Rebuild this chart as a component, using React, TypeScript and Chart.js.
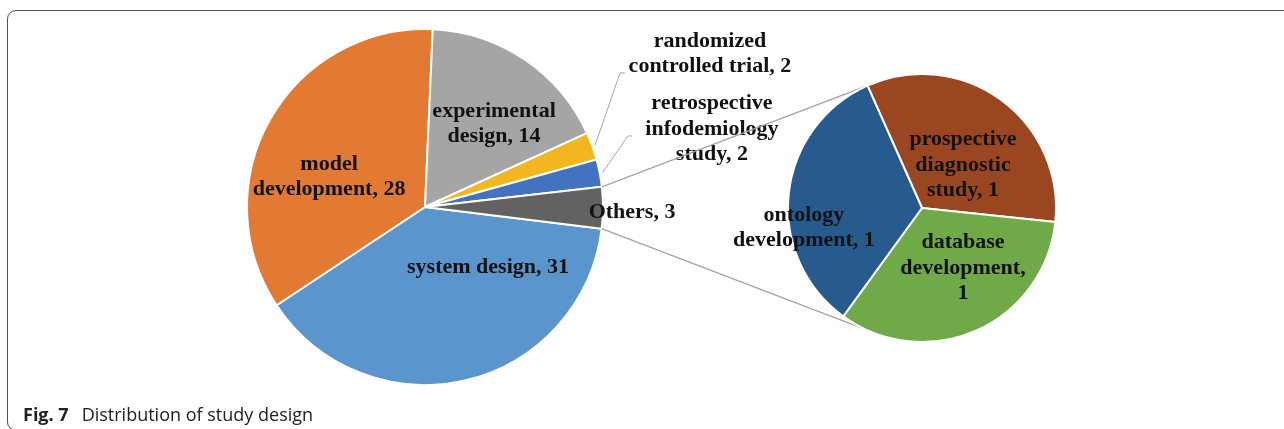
import React, { useEffect, useRef } from "react";
import { Chart, registerables } from "chart.js";

Chart.register(...registerables);

// ---------- data ----------
const mainCategories = [
  "system design",
  "model\ndevelopment",
  "experimental\ndesign",
  "randomized\ncontrolled trial",
  "retrospective\ninfodemiology\nstudy",
  "Others",
];
const mainValues = [31, 28, 14, 2, 2, 3];
const mainSeparators = [", ", ", ", ", ", ", ", ", ", ", "];
const mainColors = ["#5A95CE", "#E27A33", "#A5A5A5", "#F2B71F", "#4272C0", "#626262"];

const subCategories = ["prospective\ndiagnostic\nstudy", "database\ndevelopment", "ontology\ndevelopment"];
const subValues = [1, 1, 1];
const subSeparators = [", ", ",\n", ", "];
const subColors = ["#9A4721", "#70AA48", "#275B8E"];

// ---------- layout (relative to pie centre, in units of radius) ----------
const mainLabelPos: [number, number][] = [
  [0.354, 0.337],
  [-0.539, -0.169],
  [0.388, -0.466],
  [1.601, -0.86],
  [1.612, -0.438],
  [1.163, 0.028],
];
// leader lines: [bendX, bendY, endX, endY] or null
const mainLeaders: (number[] | null)[] = [
  null,
  null,
  null,
  [1.096, -0.753, 1.124, -0.753],
  [1.14, -0.399, 1.163, -0.399],
  null,
];
const subLabelPos: [number, number][] = [
  [0.306, -0.321],
  [0.306, 0.448],
  [-0.881, 0.149],
];
const CONNECTOR_BOTTOM_DEG = 115;

const FONT = 'bold 22px "Liberation Serif", "Times New Roman", serif';
const LINE_H = 25.5;
const W = 1284;
const H = 429;

function makeLabelPlugin(
  cats: string[],
  vals: number[],
  seps: string[],
  pos: [number, number][],
  leaders: (number[] | null)[] | null
) {
  return {
    id: "pieLabels",
    afterDatasetsDraw(chart: any) {
      const meta = chart.getDatasetMeta(0);
      const arcs = meta.data as any[];
      const { x, y, outerRadius } = arcs[0].getProps(["x", "y", "outerRadius"], true);
      const ctx = chart.ctx as CanvasRenderingContext2D;
      ctx.save();
      if (leaders) {
        ctx.strokeStyle = "#A6A6A6";
        ctx.lineWidth = 1;
        leaders.forEach((l, i) => {
          if (!l) return;
          const a = arcs[i];
          const { startAngle, endAngle } = a.getProps(["startAngle", "endAngle"], true);
          const mid = (startAngle + endAngle) / 2;
          const sx = x + Math.cos(mid) * (outerRadius + 3);
          const sy = y + Math.sin(mid) * (outerRadius + 3);
          ctx.beginPath();
          ctx.moveTo(sx, sy);
          ctx.lineTo(x + l[0] * outerRadius, y + l[1] * outerRadius);
          ctx.lineTo(x + l[2] * outerRadius, y + l[3] * outerRadius);
          ctx.stroke();
        });
      }
      ctx.font = FONT;
      ctx.fillStyle = "#111111";
      ctx.textAlign = "center";
      ctx.textBaseline = "middle";
      cats.forEach((c, i) => {
        const lines = (c + seps[i] + vals[i]).split("\n");
        const cx = x + pos[i][0] * outerRadius;
        const cy = y + pos[i][1] * outerRadius;
        lines.forEach((ln, j) => {
          ctx.fillText(ln, cx, cy + (j - (lines.length - 1) / 2) * LINE_H);
        });
      });
      ctx.restore();
    },
  };
}

export default function App() {
  const mainRef = useRef<HTMLCanvasElement | null>(null);
  const subRef = useRef<HTMLCanvasElement | null>(null);

  useEffect(() => {
    if (!mainRef.current || !subRef.current) return;
    const mainChart = new Chart(mainRef.current, {
      type: "pie",
      data: {
        labels: mainCategories.map((c) => c.replace(/\n/g, " ")),
        datasets: [
          {
            data: mainValues,
            backgroundColor: mainColors,
            borderColor: "#FFFFFF",
            borderWidth: 2,
          },
        ],
      },
      options: {
        responsive: false,
        animation: false,
        rotation: 97,
        radius: 178,
        layout: { padding: { left: 0, right: 434, top: 0, bottom: 15 } },
        plugins: { legend: { display: false }, tooltip: { enabled: false } },
      } as any,
      plugins: [makeLabelPlugin(mainCategories, mainValues, mainSeparators, mainLabelPos, mainLeaders)],
    });

    const connectorPlugin = {
      id: "connectors",
      beforeDatasetsDraw(chart: any) {
        const mArcs = mainChart.getDatasetMeta(0).data as any[];
        const others = mArcs[mArcs.length - 1];
        const m = others.getProps(["x", "y", "outerRadius", "startAngle", "endAngle"], true);
        const sArcs = chart.getDatasetMeta(0).data as any[];
        const s = sArcs[0].getProps(["x", "y", "outerRadius", "startAngle"], true);
        const bottomA = (CONNECTOR_BOTTOM_DEG * Math.PI) / 180;
        const ctx = chart.ctx as CanvasRenderingContext2D;
        ctx.save();
        ctx.strokeStyle = "#A3A3A3";
        ctx.lineWidth = 1.3;
        ctx.beginPath();
        ctx.moveTo(m.x + Math.cos(m.startAngle) * m.outerRadius, m.y + Math.sin(m.startAngle) * m.outerRadius);
        ctx.lineTo(s.x + Math.cos(s.startAngle) * s.outerRadius, s.y + Math.sin(s.startAngle) * s.outerRadius);
        ctx.moveTo(m.x + Math.cos(m.endAngle) * m.outerRadius, m.y + Math.sin(m.endAngle) * m.outerRadius);
        ctx.lineTo(s.x + Math.cos(bottomA) * s.outerRadius, s.y + Math.sin(bottomA) * s.outerRadius);
        ctx.stroke();
        ctx.restore();
      },
    };

    const subChart = new Chart(subRef.current, {
      type: "pie",
      data: {
        labels: subCategories.map((c) => c.replace(/\n/g, " ")),
        datasets: [
          {
            data: subValues,
            backgroundColor: subColors,
            borderColor: "#FFFFFF",
            borderWidth: 2,
          },
        ],
      },
      options: {
        responsive: false,
        animation: false,
        rotation: -24,
        radius: 134,
        layout: { padding: { left: 560, right: 0, top: 0, bottom: 13 } },
        plugins: { legend: { display: false }, tooltip: { enabled: false } },
      } as any,
      plugins: [connectorPlugin, makeLabelPlugin(subCategories, subValues, subSeparators, subLabelPos, null)],
    });

    return () => {
      subChart.destroy();
      mainChart.destroy();
    };
  }, []);

  return (
    <div
      style={{
        position: "fixed",
        left: 0,
        top: 0,
        width: W,
        height: H,
        overflow: "hidden",
        background: "#FFFFFF",
      }}
    >
      <div
        style={{
          position: "absolute",
          left: 7,
          top: 10,
          width: 1320,
          height: 421,
          border: "1.5px solid #505050",
          borderRadius: 9,
          boxSizing: "border-box",
        }}
      />
      <canvas ref={mainRef} width={W} height={H} style={{ position: "absolute", left: 0, top: 0 }} />
      <canvas ref={subRef} width={W} height={H} style={{ position: "absolute", left: 0, top: 0 }} />
      <div
        style={{
          position: "absolute",
          left: 23,
          top: 402,
          font: '18px "Open Sans", "Noto Sans", sans-serif',
          lineHeight: "24px",
          color: "#222222",
          whiteSpace: "nowrap",
        }}
      >
        <span style={{ fontWeight: 700, marginRight: 13 }}>Fig. 7</span>
        <span>Distribution of study design</span>
      </div>
    </div>
  );
}
